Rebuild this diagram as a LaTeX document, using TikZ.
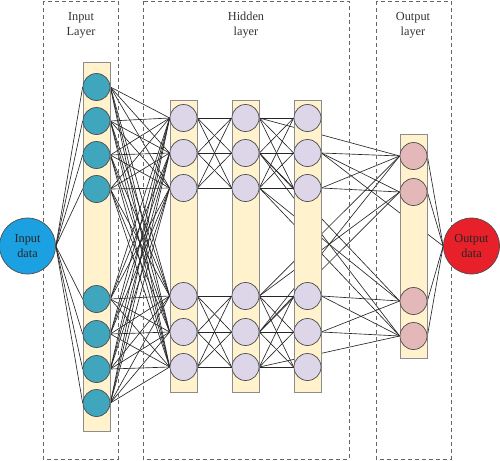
\documentclass[tikz,border=0pt]{standalone}
\usepackage{fontspec}
\setmainfont{Liberation Serif}
\usepackage{xcolor}
\usepackage{tikz}
\usetikzlibrary{backgrounds}
\definecolor{datablue}{HTML}{1BA1E2}
\definecolor{datared}{HTML}{E8202A}
\definecolor{teal node}{HTML}{40A6BD}
\definecolor{lilac node}{HTML}{DDD6E8}
\definecolor{rose node}{HTML}{E4B8B8}
\definecolor{bar cream}{HTML}{FFF2CC}
\tikzset{
	unit node/.style={circle,draw=black!70,line width=0.6pt,minimum size=8.1mm,inner sep=0pt},
	in node/.style={unit node,fill=teal node},
	hid node/.style={unit node,fill=lilac node},
	out node/.style={unit node,fill=rose node},
	data node/.style={circle,draw=black!70,line width=0.6pt,minimum size=16.8mm,inner sep=0pt,align=center,text=black!85,font=\fontsize{10.5}{12.5}\selectfont},
	layer bar/.style={draw=black!45,line width=0.6pt,fill=bar cream},
	layer box/.style={draw=black!60,line width=0.7pt,dash pattern=on 1.2mm off 0.9mm},
	layer title/.style={align=center,text=black!80,font=\fontsize{10.5}{12.5}\selectfont},
	link/.style={draw=black!85,line width=0.55pt}
}

\begin{document}
\begin{tikzpicture}[x=0.3mm,y=-0.3mm]
	\useasboundingbox (0,0) rectangle (500,460);
	% dashed layer frames
	\draw[layer box] (43,1) rectangle (118,459);
	\draw[layer box] (143,1) rectangle (349,459);
	\draw[layer box] (376,1) rectangle (451,459);
	\node[layer title] (tin) at (81,25) {Input\\Layer};
	\node[layer title] (thid) at (246,25) {Hidden\\layer};
	\node[layer title] (tout) at (413,25) {Output\\layer};
	% columns
	\draw[layer bar] (83,62) rectangle (110,431);
	\draw[layer bar] (170,100) rectangle (197,392);
	\draw[layer bar] (232,100) rectangle (259,392);
	\draw[layer bar] (294,100) rectangle (321,392);
	\draw[layer bar] (400,134) rectangle (427,358);
	% units
	\node[data node,fill=datablue] (in) at (27.5,246) {Input\\data};
	\node[data node,fill=datared] (out) at (471.5,246) {Output\\data};
	\foreach \n/\y in {1/87,2/121,3/155,4/189,5/299,6/334,7/369,8/403}
		\node[in node] (i\n) at (96.5,\y) {};
	\foreach \n/\y in {1/118,2/153,3/188,4/296,5/332,6/367}{
		\node[hid node] (a\n) at (183.5,\y) {};
		\node[hid node] (b\n) at (245.5,\y) {};
		\node[hid node] (c\n) at (307.5,\y) {};
	}
	\foreach \n/\y in {1/156,2/192,3/301,4/336}
		\node[out node] (o\n) at (413.5,\y) {};
	% connections, behind the columns
	\begin{scope}[on background layer]
		\foreach \a in {1,...,8}{
			\draw[link] (in.east) -- (i\a.west);
			\foreach \b in {1,...,6}
				\draw[link] (i\a.east) -- (a\b.west);
		}
		\foreach \a in {1,2,3}
			\foreach \b in {1,2,3}{
				\draw[link] (a\a.east) -- (b\b.west);
				\draw[link] (b\a.east) -- (c\b.west);
			}
		\foreach \a in {4,5,6}
			\foreach \b in {4,5,6}{
				\draw[link] (a\a.east) -- (b\b.west);
				\draw[link] (b\a.east) -- (c\b.west);
			}
		\foreach \a/\b in {2/1,2/2,3/1,3/2}
			\draw[link] (c\a.east) -- (o\b.west);
		\foreach \a/\b in {4/3,4/4,5/3,5/4}
			\draw[link] (c\a.east) -- (o\b.west);
		\foreach \a/\b in {1/1,2/3,2/4,3/3,3/4,4/1,4/2,5/1,5/2,6/4}
			\draw[link] (b\a.east) -- (o\b.west);
		\draw[link] (c2.east) -- (out.west);
		\foreach \b in {1,...,4}
			\draw[link] (o\b.east) -- (out.west);
	\end{scope}
\end{tikzpicture}
\end{document}
